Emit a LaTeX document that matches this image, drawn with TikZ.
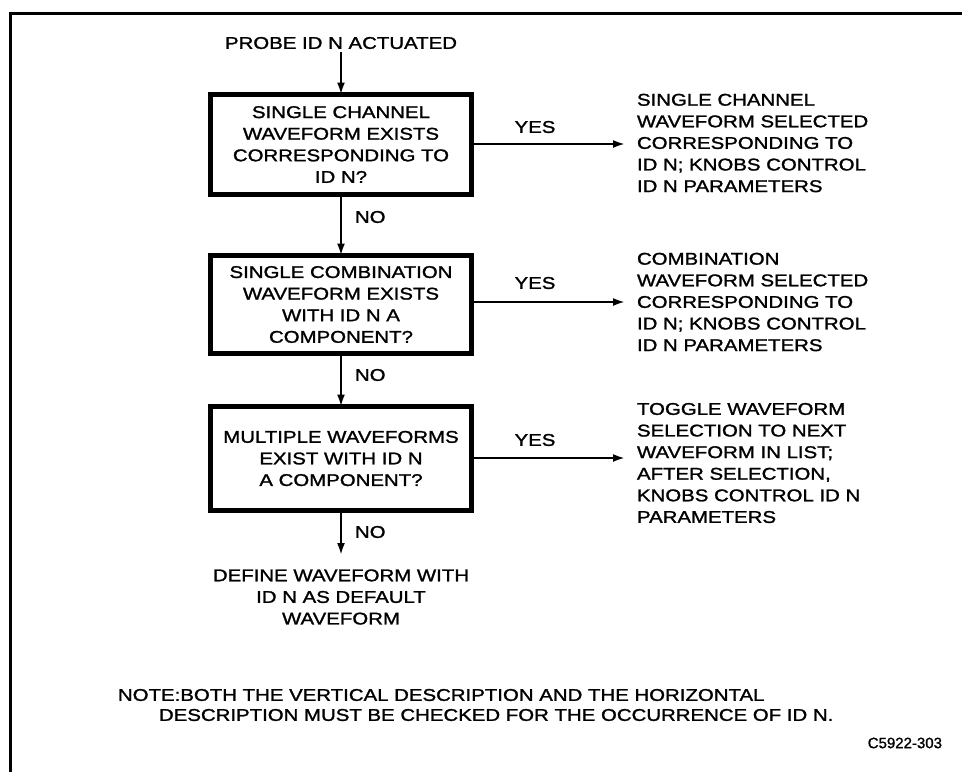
\documentclass[tikz,border=0pt]{standalone}
\usepackage{fontspec}
\setmainfont{Liberation Sans}[FakeStretch=1.2,FakeBold=1.4]
\newfontfamily\codefont{Liberation Sans}[FakeBold=1.2]
\usetikzlibrary{arrows.meta}
\begin{document}
\begin{tikzpicture}[x=1pt,y=-1pt,
  every node/.style={inner sep=0pt,outer sep=0pt},
  txt/.style={font=\fontsize{17}{21.6}\selectfont},
  decision/.style={txt,draw,line width=4.5pt,minimum width=261pt,align=center},
  flow/.style={line width=2.2pt,-{Latex[length=12pt,width=8pt]}},
  frame/.style={line width=3pt}]
\useasboundingbox (0,0) rectangle (962,772);
\draw[frame] (962,13) -- (10,13) -- (10,772);

\node[txt] (probe) at (341,43) {PROBE ID N ACTUATED};

\node[decision,minimum height=100pt] (b1) at (341,144.5)
  {SINGLE CHANNEL\\WAVEFORM EXISTS\\CORRESPONDING TO\\ID N?};
\node[decision,minimum height=98pt] (b2) at (341,304.5)
  {SINGLE COMBINATION\\WAVEFORM EXISTS\\WITH ID N A\\COMPONENT?};
\node[decision,minimum height=104pt] (b3) at (341,458.5)
  {MULTIPLE WAVEFORMS\\EXIST WITH ID N\\A COMPONENT?};

\node[txt,anchor=west,align=left] (r1) at (637,143)
  {SINGLE CHANNEL\\WAVEFORM SELECTED\\CORRESPONDING TO\\ID N; KNOBS CONTROL\\ID N PARAMETERS};
\node[txt,anchor=west,align=left] (r2) at (637,302)
  {COMBINATION\\WAVEFORM SELECTED\\CORRESPONDING TO\\ID N; KNOBS CONTROL\\ID N PARAMETERS};
\node[txt,anchor=west,align=left] (r3) at (637,463)
  {TOGGLE WAVEFORM\\SELECTION TO NEXT\\WAVEFORM IN LIST;\\AFTER SELECTION,\\KNOBS CONTROL ID N\\PARAMETERS};

\node[txt,align=center] (def) at (341,597)
  {DEFINE WAVEFORM WITH\\ID N AS DEFAULT\\WAVEFORM};

\coordinate (e1) at (625,144);
\coordinate (e2) at (625,302);
\coordinate (e3) at (625,458);
\coordinate (d0) at (341,555);

\draw[flow] (probe.south) ++(0,3) -- (b1.north);
\draw[flow] (b1.south) -- (b2.north);
\draw[flow] (b2.south) -- (b3.north);
\draw[flow] (b3.south) -- (d0);
\draw[flow] (b1.east |- e1) -- (e1);
\draw[flow] (b2.east |- e2) -- (e2);
\draw[flow] (b3.east |- e3) -- (e3);

\node[txt,anchor=west] (no1) at (355,217) {NO};
\node[txt,anchor=west] (no2) at (355,375) {NO};
\node[txt,anchor=west] (no3) at (355,532) {NO};
\node[txt] (yes1) at (535,127) {YES};
\node[txt] (yes2) at (535,283) {YES};
\node[txt] (yes3) at (535,440) {YES};

\node[txt,anchor=west] (note1) at (118,695)
  {NOTE:BOTH THE VERTICAL DESCRIPTION AND THE HORIZONTAL};
\node[txt,anchor=west] (note2) at (159,715)
  {DESCRIPTION MUST BE CHECKED FOR THE OCCURRENCE OF ID N.};
\node[anchor=east,font=\codefont\fontsize{15}{18}\selectfont] (code) at (942,743) {C5922-303};
\end{tikzpicture}
\end{document}
